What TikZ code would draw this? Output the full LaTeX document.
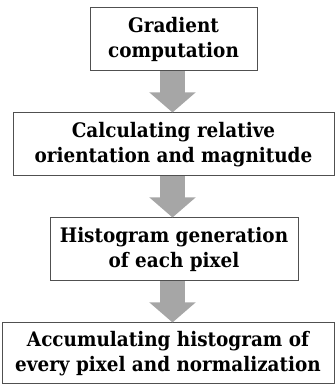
\documentclass[tikz,border=0pt]{standalone}
\usepackage{fontspec}
\setmainfont[FakeStretch=0.92]{DejaVu Serif}
\usetikzlibrary{arrows.meta}
\definecolor{arrgray}{HTML}{A6A6A6}
\definecolor{boxline}{HTML}{505050}

\tikzset{
  stepbox/.style={draw=boxline,line width=1pt,fill=white,align=center,
    inner sep=0pt,font=\bfseries\fontsize{20}{25}\selectfont},
  blockarrow/.style={draw=arrgray,line width=25pt,
    -{Triangle[length=20pt,width=45pt,fill=arrgray]}}
}

\begin{document}
\begin{tikzpicture}[x=1pt,y=1pt]
\useasboundingbox (0,0) rectangle (336,385);
\node[stepbox,minimum width=167pt,minimum height=63pt] (grad) at (173.5,345.5) {Gradient\\computation};
\node[stepbox,minimum width=321pt,minimum height=63pt] (orient) at (173.5,240.5) {Calculating relative\\orientation and magnitude};
\node[stepbox,minimum width=248pt,minimum height=63pt] (hist) at (174,135.5) {Histogram generation\\of each pixel};
\node[stepbox,minimum width=332pt,minimum height=61pt] (accum) at (168,31.5) {Accumulating histogram of\\every pixel and normalization};

% arrows run down one common axis
\coordinate (axis) at (172.5,0);
\draw[blockarrow] (axis |- grad.south) -- (axis |- orient.north);
\draw[blockarrow] (axis |- orient.south) -- (axis |- hist.north);
\draw[blockarrow] (axis |- hist.south) -- (axis |- accum.north);
\end{tikzpicture}
\end{document}
